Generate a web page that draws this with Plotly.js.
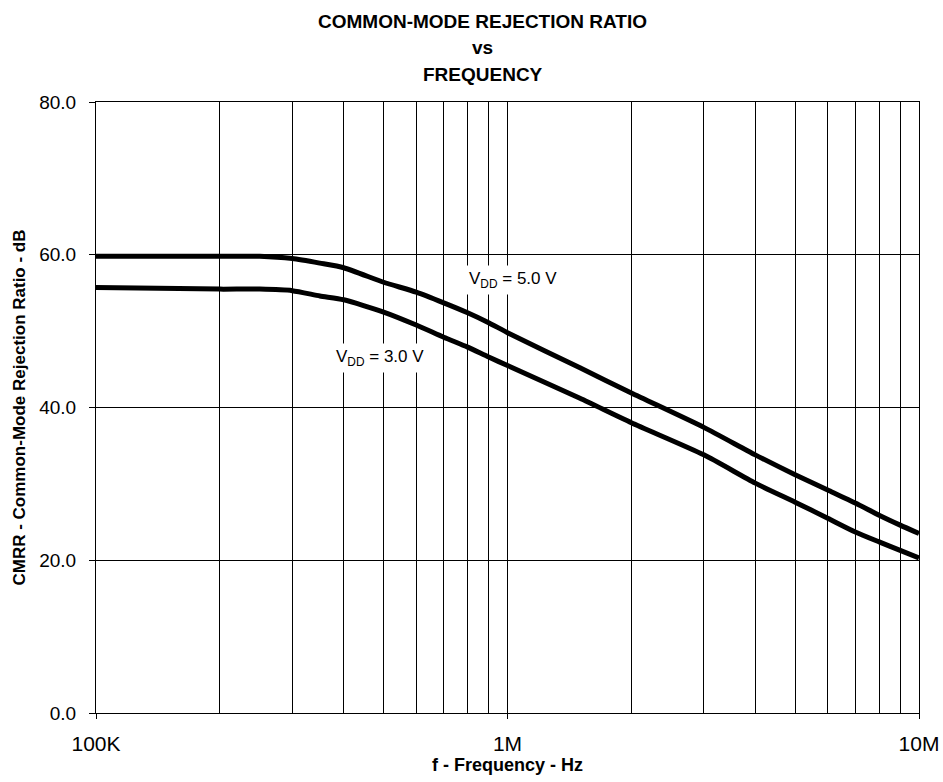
<!DOCTYPE html>
<html>
<head>
<meta charset="utf-8">
<script src="https://cdn.plot.ly/plotly-3.0.1.min.js"></script>
<style>html,body{margin:0;padding:0;background:#fff;}#chart{width:943px;height:782px;}</style>
</head>
<body>
<div id="chart"></div>
<script>
// Frequencies (Hz)
const freq = [1e5, 2e5, 2.5e5, 3e5, 3.5e5, 4e5, 5e5, 6e5, 7e5, 8e5, 9e5, 1e6, 1.5e6, 2e6, 3e6, 4e6, 5e6, 6e6, 7e6, 8e6, 9e6, 1e7];
// CMRR (dB)
const cmrr5V = [59.8, 59.8, 59.8, 59.5, 58.9, 58.3, 56.4, 55.1, 53.7, 52.4, 51.1, 49.8, 45.2, 41.9, 37.4, 33.8, 31.2, 29.2, 27.5, 25.9, 24.6, 23.5];
const cmrr3V = [55.7, 55.5, 55.5, 55.3, 54.6, 54.1, 52.5, 50.8, 49.2, 47.9, 46.6, 45.5, 41.2, 38.0, 33.8, 30.1, 27.6, 25.5, 23.7, 22.4, 21.3, 20.3];
const seriesNames = ["V<sub>DD</sub> = 5.0 V", "V<sub>DD</sub> = 3.0 V"];
// Label anchor points (frequency, dB)
const labelFreq = [1.03e6, 4.9e5];
const labelDb = [56.7, 46.5];
// Axis ticks
const xMajorVals = [1e5, 1e6, 1e7];
const xMajorText = ["100K", "1M", "10M"];
const xMinorVals = [2e5,3e5,4e5,5e5,6e5,7e5,8e5,9e5,2e6,3e6,4e6,5e6,6e6,7e6,8e6,9e6];
const yTickVals = [0, 20, 40, 60, 80];
const yTickText = ["0.0", "20.0", "40.0", "60.0", "80.0"];
const titleLines = ["COMMON-MODE REJECTION RATIO", "vs", "FREQUENCY"];

const FONT = "Liberation Sans, Arial, sans-serif";

const traces = [
  {x: freq, y: cmrr5V, name: seriesNames[0], mode: "lines", line: {color: "#000", width: 5, shape: "spline", smoothing: 0.6}},
  {x: freq, y: cmrr3V, name: seriesNames[1], mode: "lines", line: {color: "#000", width: 5, shape: "spline", smoothing: 0.6}}
];

const titleY = [21.5, 48, 74]; // pixel rows from top
const toPaperY = (py) => (713 - py) / 611;

const annotations = titleLines.map((t, i) => ({
  xref: "paper", yref: "paper", x: 0.470, y: toPaperY(titleY[i]),
  text: "<b>" + t + "</b>", showarrow: false,
  font: {family: FONT, size: 19, color: "#000"}, xanchor: "center", yanchor: "middle"
}));
for (let i = 0; i < 2; i++) {
  annotations.push({x: Math.log10(labelFreq[i]), y: labelDb[i], xref: "x", yref: "y", text: seriesNames[i],
    showarrow: false, bgcolor: "#fff", font: {family: FONT, size: 17, color: "#000"}, borderpad: 3});
}

const layout = {
  width: 943, height: 782,
  margin: {l: 96, r: 24, t: 102, b: 69},
  paper_bgcolor: "#fff", plot_bgcolor: "#fff",
  showlegend: false,
  font: {family: FONT, color: "#000"},
  xaxis: {
    type: "log", range: [5, 7],
    tickmode: "array", tickvals: xMajorVals, ticktext: xMajorText,
    showgrid: true, gridcolor: "#000", gridwidth: 1,
    minor: {tickmode: "array", tickvals: xMinorVals, showgrid: true, gridcolor: "#000", gridwidth: 1, ticks: ""},
    showline: true, linecolor: "#000", linewidth: 1, mirror: true,
    ticks: "outside", ticklen: 5, tickcolor: "#000",
    tickfont: {size: 21, family: FONT},
    ticklabelstandoff: 7,
    zeroline: false,
    title: {text: "<b>f - Frequency - Hz</b>", font: {size: 18, family: FONT}, standoff: 1}
  },
  yaxis: {
    range: [0, 80],
    tickvals: yTickVals, ticktext: yTickText,
    showgrid: true, gridcolor: "#000", gridwidth: 1,
    showline: true, linecolor: "#000", linewidth: 1, mirror: true,
    ticks: "outside", ticklen: 6, tickcolor: "#000",
    tickfont: {size: 19, family: FONT},
    ticklabelstandoff: 9,
    zeroline: false,
    title: {text: "<b>CMRR - Common-Mode Rejection Ratio - dB</b>", font: {size: 17, family: FONT}, standoff: 9}
  },
  annotations: annotations
};

Plotly.newPlot("chart", traces, layout, {displayModeBar: false, staticPlot: true});
</script>
</body>
</html>
